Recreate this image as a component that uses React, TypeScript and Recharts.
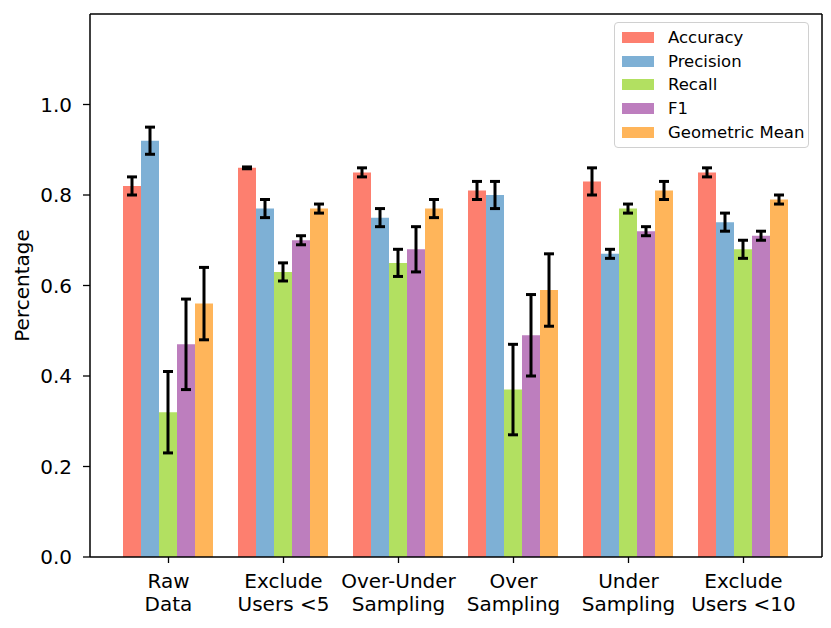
import React from 'react';
import { BarChart, Bar, XAxis, YAxis, ErrorBar, Legend } from 'recharts';

// groups along the x axis (two-line labels)
const categories = [
  'Raw\nData',
  'Exclude\nUsers <5',
  'Over-Under\nSampling',
  'Over\nSampling',
  'Under\nSampling',
  'Exclude\nUsers <10',
];

const accuracy = [0.82, 0.86, 0.85, 0.81, 0.83, 0.85];
const accuracyErr = [0.02, 0.002, 0.01, 0.02, 0.03, 0.01];
const precision = [0.92, 0.77, 0.75, 0.8, 0.67, 0.74];
const precisionErr = [0.03, 0.02, 0.02, 0.03, 0.01, 0.02];
const recall = [0.32, 0.63, 0.65, 0.37, 0.77, 0.68];
const recallErr = [0.09, 0.02, 0.03, 0.1, 0.01, 0.02];
const f1 = [0.47, 0.7, 0.68, 0.49, 0.72, 0.71];
const f1Err = [0.1, 0.01, 0.05, 0.09, 0.01, 0.01];
const gmean = [0.56, 0.77, 0.77, 0.59, 0.81, 0.79];
const gmeanErr = [0.08, 0.01, 0.02, 0.08, 0.02, 0.01];

const yTicks = [0, 0.2, 0.4, 0.6, 0.8, 1.0];

const series = [
  { key: 'accuracy', name: 'Accuracy', color: '#fd7f6f' },
  { key: 'precision', name: 'Precision', color: '#7eb0d5' },
  { key: 'recall', name: 'Recall', color: '#b2e061' },
  { key: 'f1', name: 'F1', color: '#bd7ebe' },
  { key: 'gmean', name: 'Geometric Mean', color: '#ffb55a' },
];

const data = categories.map((name, i) => ({
  name,
  accuracy: accuracy[i],
  accuracyErr: accuracyErr[i],
  precision: precision[i],
  precisionErr: precisionErr[i],
  recall: recall[i],
  recallErr: recallErr[i],
  f1: f1[i],
  f1Err: f1Err[i],
  gmean: gmean[i],
  gmeanErr: gmeanErr[i],
}));

const FONT = '"DejaVu Sans", sans-serif';

const XTick = (props: any) => {
  const { x, y, payload } = props;
  const lines = String(payload.value).split('\n');
  return (
    <text x={x} y={y} textAnchor="middle" fontFamily={FONT} fontSize={20} fill="#000">
      {lines.map((l, i) => (
        <tspan key={i} x={x} dy={i === 0 ? 25 : 23}>
          {l}
        </tspan>
      ))}
    </text>
  );
};

const LegendBox = () => (
  <div
    style={{
      border: '1px solid #d0d0d0',
      borderRadius: 4,
      background: 'rgba(255,255,255,0.85)',
      padding: '3px 6px 3px 7px',
      fontFamily: FONT,
      fontSize: 16.5,
      color: '#000',
      width: 180,
    }}
  >
    {series.map((s) => (
      <div key={s.key} style={{ display: 'flex', alignItems: 'center', height: 23.6 }}>
        <span style={{ width: 32, height: 11, background: s.color, display: 'inline-block', marginRight: 14, flexShrink: 0 }} />
        <span style={{ whiteSpace: 'nowrap' }}>{s.name}</span>
      </div>
    ))}
  </div>
);

export default function App() {
  return (
    <div style={{ position: 'absolute', left: 0, top: 0, width: 831, height: 628, background: '#fff' }}>
      <BarChart
        width={831}
        height={628}
        data={data}
        margin={{ top: 13, right: 8, bottom: 0, left: 0 }}
        barCategoryGap={12}
        barGap={0}
      >
        <XAxis
          dataKey="name"
          interval={0}
          padding={{ left: 21, right: 21 }}
          axisLine={{ stroke: '#000', strokeWidth: 1.5 }}
          tickLine={{ stroke: '#000', strokeWidth: 1.3 }}
          tickSize={6}
          tickMargin={0}
          tick={<XTick />}
          height={71}
        />
        <XAxis
          xAxisId="top"
          orientation="top"
          dataKey="name"
          height={1}
          tick={false}
          tickLine={false}
          axisLine={{ stroke: '#000', strokeWidth: 1.5 }}
        />
        <YAxis
          domain={[0, 1.2]}
          ticks={yTicks}
          width={90}
          allowDataOverflow
          tickFormatter={(v: number) => v.toFixed(1)}
          axisLine={{ stroke: '#000', strokeWidth: 1.5 }}
          tickLine={{ stroke: '#000', strokeWidth: 1.3 }}
          tickSize={7}
          tickMargin={11}
          tick={{ fill: '#000', fontSize: 20, fontFamily: FONT }}
          label={{
            value: 'Percentage',
            angle: -90,
            position: 'insideLeft',
            offset: 22,
            style: { fill: '#000', fontSize: 20, fontFamily: FONT, textAnchor: 'middle' },
          }}
        />
        <YAxis
          yAxisId="right"
          orientation="right"
          domain={[0, 1.2]}
          width={1}
          tick={false}
          tickLine={false}
          axisLine={{ stroke: '#000', strokeWidth: 1.5 }}
        />
        {series.map((s) => (
          <Bar key={s.key} dataKey={s.key} name={s.name} fill={s.color} isAnimationActive={false}>
            <ErrorBar dataKey={`${s.key}Err`} width={5} stroke="#000" strokeWidth={3} />
          </Bar>
        ))}
        <Legend
          layout="horizontal"
          verticalAlign="middle"
          align="center"
          content={<LegendBox />}
          wrapperStyle={{ position: 'absolute', left: 614, top: 22, width: 'auto' }}
        />
      </BarChart>
    </div>
  );
}
